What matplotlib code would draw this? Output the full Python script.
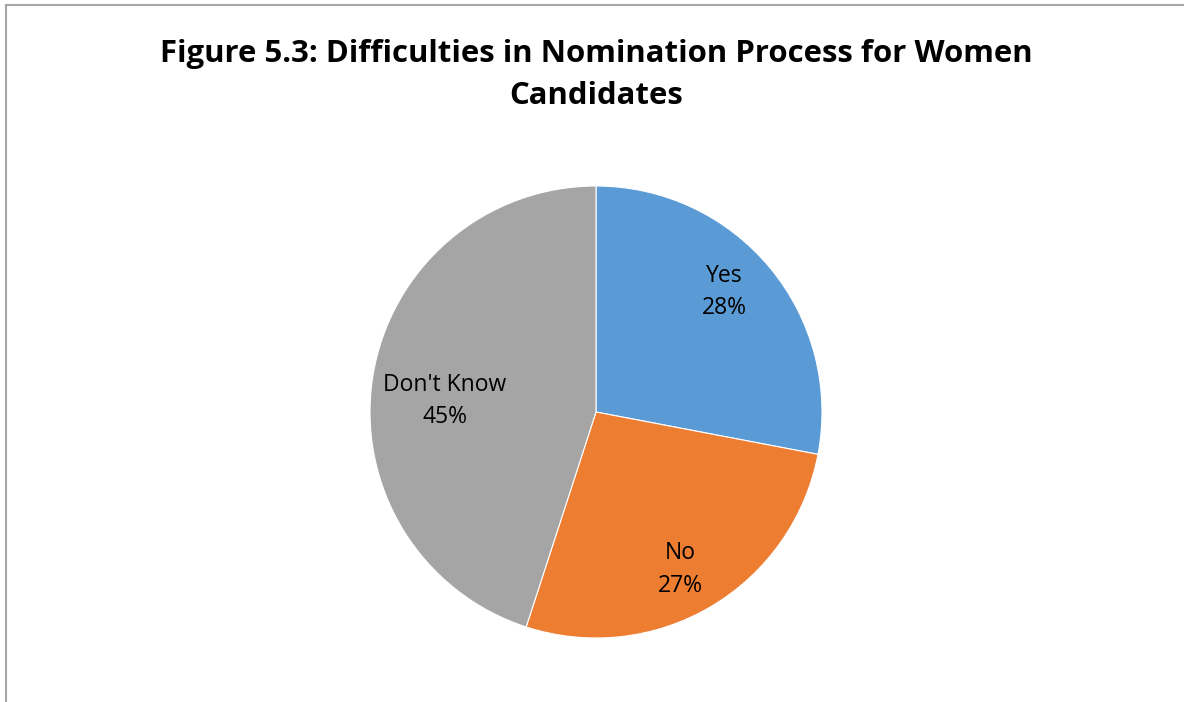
import matplotlib.pyplot as plt
import numpy as np
from matplotlib.lines import Line2D

# survey answers
answers = ["Yes", "No", "Don't Know"]
shares = [28, 27, 45]
colours = ["#5B9BD5", "#ED7D31", "#A5A5A5"]
label_radius = [0.78, 0.79, 0.67]
label_nudge = [3.5, -2.5, 5.0]  # degrees

W, H = 1184, 702
fig = plt.figure(figsize=(W / 100, H / 100), dpi=100)

# pie area: centre (596, 412) px, radius 226 px
cx, cy, r = 596, 412, 226
ax = fig.add_axes([(cx - r) / W, (H - cy - r) / H, 2 * r / W, 2 * r / H])
wedges, _ = ax.pie(shares, colors=colours, startangle=90, counterclock=False,
                   radius=1, wedgeprops=dict(edgecolor='white', linewidth=0.8))
ax.set_xlim(-1, 1)
ax.set_ylim(-1, 1)
ax.set_aspect('equal')
ax.axis('off')

# labels inside each slice
total = sum(shares)
start = 90.0
for name, val, rr, nd in zip(answers, shares, label_radius, label_nudge):
    span = 360.0 * val / total
    mid = np.deg2rad(start - span / 2 + nd)
    start -= span
    ax.text(rr * np.cos(mid), rr * np.sin(mid), f"{name}\n{val}%",
            ha='center', va='center', fontsize=16.5, family='Open Sans',
            linespacing=1.45, color='#000000')

fig.text(596 / W, 1 - 75 / H, "Figure 5.3: Difficulties in Nomination Process for Women\nCandidates",
         ha='center', va='center', fontsize=22.4, fontweight='bold', family='Open Sans',
         linespacing=1.55)

# chart frame (left and top edges)
fig.add_artist(Line2D([5.5 / W, 5.5 / W], [0, 1 - 4.5 / H], transform=fig.transFigure,
                      color='#A6A6A6', linewidth=1.5))
fig.add_artist(Line2D([5.5 / W, 1], [1 - 4.5 / H, 1 - 4.5 / H], transform=fig.transFigure,
                      color='#A6A6A6', linewidth=1.5))

fig.savefig('out.png', dpi=100)
